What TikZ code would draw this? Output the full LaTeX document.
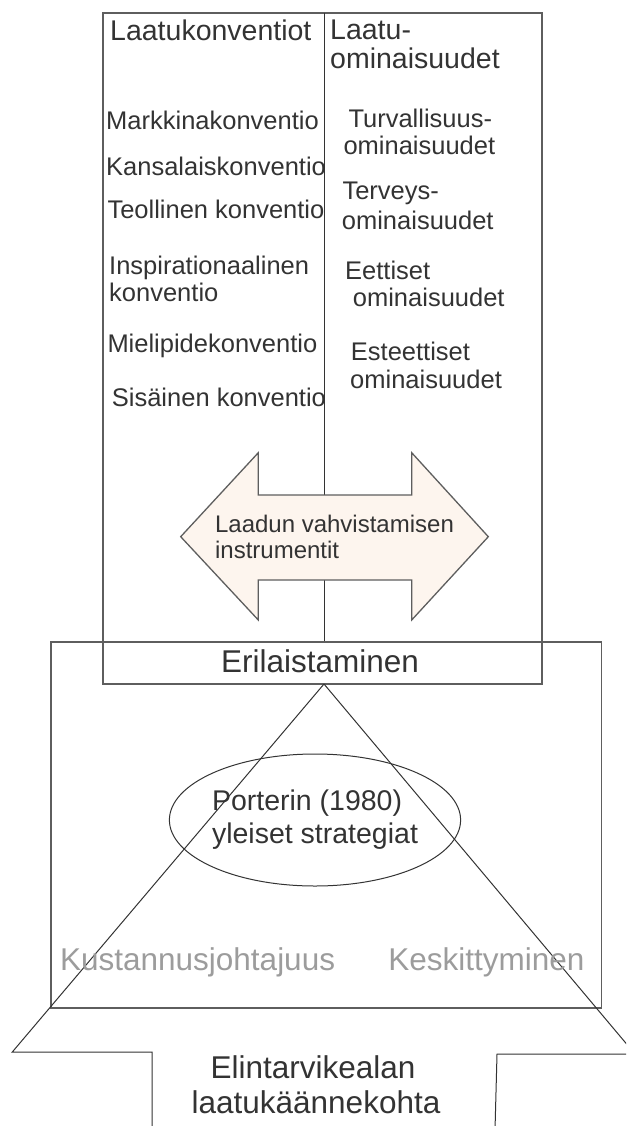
\documentclass[tikz,border=0pt]{standalone}
\usepackage{fontspec}
\setmainfont{Liberation Sans}
\usepackage{tikz}
\usetikzlibrary{positioning,calc,shapes.geometric}
\definecolor{txtgray}{HTML}{333333}
\definecolor{linegray}{HTML}{5E5E5E}
\definecolor{faintgray}{HTML}{9C9C9C}
\definecolor{peach}{HTML}{FDF5EE}
\tikzset{boxline/.style={draw=linegray, line width=1.7pt}}
\tikzset{thinline/.style={draw=txtgray, line width=1pt}}
\tikzset{item/.style={anchor=base west, inner sep=0, text=txtgray, font=\fontsize{25.5}{29}\selectfont}}
\tikzset{head/.style={item, font=\fontsize{28.5}{33}\selectfont}}
\tikzset{big/.style={anchor=base, inner sep=0, text=txtgray, font=\fontsize{31.5}{36}\selectfont}}
\tikzset{faint/.style={big, text=faintgray}}

\begin{document}
\begin{tikzpicture}[x=1pt, y=-1pt]
	\useasboundingbox (0,0) rectangle (626,1126);
	\clip (0,0) rectangle (626,1126);
	% frames
	\coordinate (topNW) at (103,13);
	\coordinate (topSE) at (542,684);
	\coordinate (midNW) at (51,642);
	\coordinate (midSE) at (601.5,1008);
	\coordinate (apex) at (324,684);
	\draw[boxline] (topNW) rectangle (topSE);
	\draw[thinline] (324,13) -- (324,642);
	\draw[boxline] (midNW) rectangle (midSE);

	% two-headed arrow
	\draw[boxline, line width=1.3pt, fill=peach]
		(180.7,536.7) -- (258.3,452.7) -- (258.3,495) -- (411.7,495) -- (411.7,452.7)
		-- (488.3,536.7) -- (411.7,620) -- (411.7,580) -- (258.3,580) -- (258.3,620) -- cycle;
	\node[inner sep=0, align=left, text=txtgray, font=\fontsize{24}{26.7}\selectfont]
		(instr) at (334.5,537) {Laadun vahvistamisen\\instrumentit};

	% triangle with its foot
	\draw[thinline] (apex) -- (12.3,1052) -- (152,1052) -- (152,1130)
		(495,1130) -- (497,1054) -- (635,1054) -- (apex);

	% column headers
	\node[head] (conv) at (110,40.7) {Laatukonventiot};
	\node[head] (prop) at (330,39.3) {Laatu-};
	\node[head] (prop2) at (330,68.3) {ominaisuudet};

	% conventions
	\node[item] (c1) at (106,129.3) {Markkinakonventio};
	\node[item] (c2) at (106,175.7) {Kansalaiskonventio};
	\node[item] (c3) at (107.3,218.3) {Teollinen konventio};
	\node[item] (c4) at (109,274) {Inspirationaalinen};
	\node[item] (c4b) at (109,301.7) {konventio};
	\node[item] (c5) at (107.3,352.7) {Mielipidekonventio};
	\node[item] (c6) at (111.7,406) {Sisäinen konventio};

	% properties
	\node[item] (p1) at (348.3,127.3) {Turvallisuus-};
	\node[item] (p1b) at (343.3,155) {ominaisuudet};
	\node[item] (p2) at (342.3,199.3) {Terveys-};
	\node[item] (p2b) at (341.7,229.3) {ominaisuudet};
	\node[item] (p3) at (345,279.3) {Eettiset};
	\node[item] (p3b) at (352.7,306.7) {ominaisuudet};
	\node[item] (p4) at (350.7,360) {Esteettiset};
	\node[item] (p4b) at (350,388.3) {ominaisuudet};

	\node[big] (diff) at (320,672) {Erilaistaminen};

	\node[ellipse, thinline, minimum width=238pt, minimum height=132pt, inner sep=0,
		align=left, text=txtgray, font=\fontsize{28.5}{33}\selectfont]
		(porter) at (315,820) {Porterin (1980)\\yleiset strategiat};

	\node[faint] (cost) at (197.6,970) {Kustannusjohtajuus};
	\node[faint] (focus) at (486.4,970) {Keskittyminen};

	\node[big] (turn) at (313,1078) {Elintarvikealan};
	\node[big] (turn2) at (316,1113) {laatukäännekohta};
\end{tikzpicture}
\end{document}
